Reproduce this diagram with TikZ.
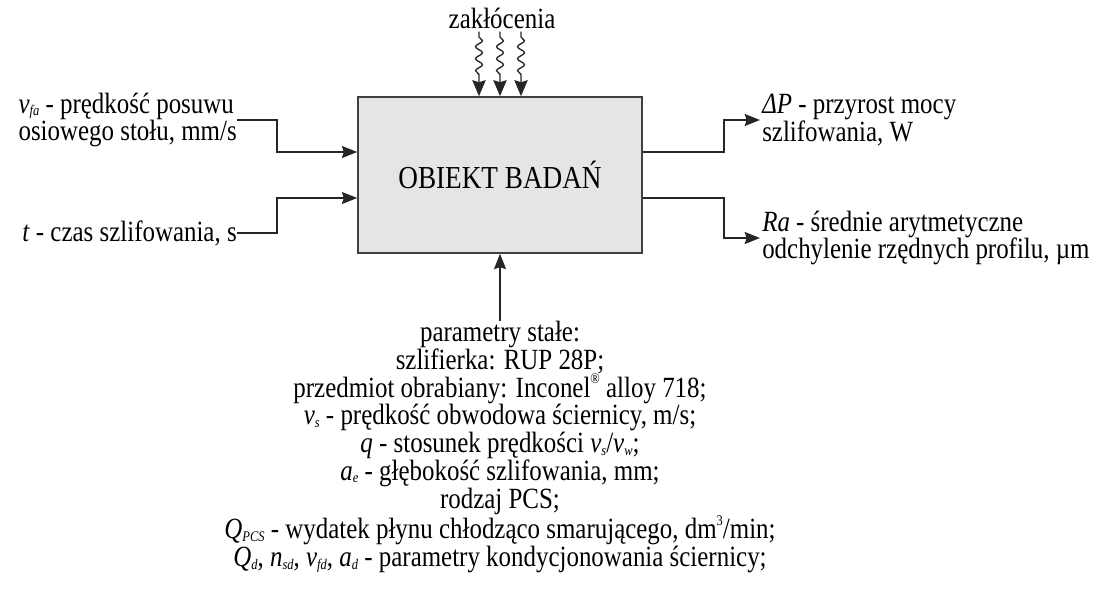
\documentclass[tikz,border=0pt]{standalone}
\usepackage{fontspec}
\setmainfont{Liberation Serif}[FakeStretch=0.85]
\usetikzlibrary{arrows.meta, calc, positioning, decorations.pathmorphing}
\newcommand{\sub}[2]{\textit{#1}\raisebox{-0.2ex}{\fontsize{11}{11}\selectfont\textit{#2}}}
\newcommand{\gor}[1]{\raisebox{1.0ex}{\fontsize{11}{11}\selectfont #1}}
\tikzset{
  blok/.style ={draw=black!75, fill=black!10, line width=1.2pt, minimum width=213pt, minimum height=117pt, inner sep=0pt, font=\fontsize{24}{26}\selectfont},
  opis/.style ={inner sep=1.5pt, font=\fontsize{22}{20.8}\selectfont},
  strz/.style ={-{Stealth[length=11.5pt, width=9pt, inset=1.5pt]}, line width=1.3pt, black!85},   % input / output
  fala/.style ={-{Stealth[length=12pt, width=10pt, inset=1.5pt]}, line width=1pt, black!85, decorate,
                decoration={snake, amplitude=2.6pt, segment length=9pt, pre length=4pt, post length=13pt}}, % disturbance
}
\begin{document}
\begin{tikzpicture}[x=0.75pt, y=-0.75pt]
  \useasboundingbox (0,0) rectangle (1104,590);

  % object in the middle
  \node[blok] (obj) at (500,175) {OBIEKT BADAŃ};

  % disturbances
  \node[opis, inner sep=0pt] (zak) at (502,18) {zakłócenia};
  \foreach \dx in {-21,0,21}
    \draw[fala] ($(zak.south -| obj.north)+(\dx,3)$) -- ($(obj.north)+(\dx,0)$);

  % inputs
  \node[opis, anchor=east, align=left, inner sep=0pt] (vfa) at (237,120)
    {\sub{v}{fa} - prędkość posuwu\\ osiowego stołu, mm/s};
  \node[opis, anchor=east, inner sep=0pt] (czas) at (237,233)
    {\textit{t} - czas szlifowania, s};
  \draw[strz] (vfa.east) -- ++(40,0) |- ($(obj.west)+(0,-23)$);
  \draw[strz] (czas.east) -- ++(40,0) |- ($(obj.west)+(0,23)$);

  % outputs
  \node[opis, anchor=west, align=left] (dP) at (760,120)
    {\textit{ΔP} - przyrost mocy\\ szlifowania, W};
  \node[opis, anchor=west, align=left] (Ra) at (760,238)
    {\textit{Ra} - średnie arytmetyczne\\ odchylenie rzędnych profilu, µm};
  \draw[strz] ($(obj.east)+(0,-23)$) -- ++(81,0) |- (dP.west);
  \draw[strz] ($(obj.east)+(0,23)$) -- ++(81,0) |- (Ra.west);

  % constant parameters
  \node[opis, anchor=north, align=center, inner sep=0pt] (stale) at (500,321)
    {parametry stałe:\\
     szlifierka: RUP 28P;\\
     przedmiot obrabiany: Inconel\gor{®} alloy 718;\\
     \sub{v}{s} - prędkość obwodowa ściernicy, m/s;\\
     \textit{q} - stosunek prędkości \sub{v}{s}/\sub{v}{w};\\
     \sub{a}{e} - głębokość szlifowania, mm;\\
     rodzaj PCS;\\
     \sub{Q}{PCS} - wydatek płynu chłodząco smarującego, dm\gor{3}/min;\\
     \sub{Q}{d}, \sub{n}{sd}, \sub{v}{fd}, \sub{a}{d} - parametry kondycjonowania ściernicy;};
  \draw[strz] (stale.north) -- (obj.south);
\end{tikzpicture}
\end{document}
